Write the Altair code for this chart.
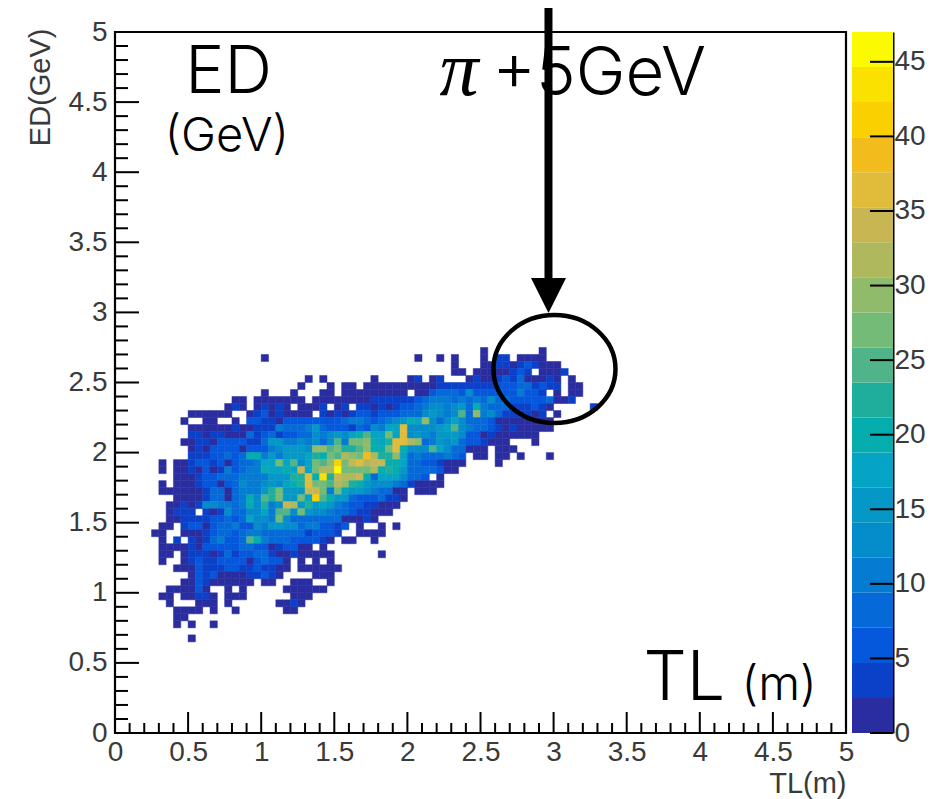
import altair as alt
import pandas as pd

# one (row, first column, levels) entry per run of filled bins; levels are base-20 colour steps
HEAT = [
 (54,50,"0"),(54,58,"0"),
 (53,20,"0"),(53,41,"0"),(53,44,"0"),(53,46,"0"),(53,50,"0"),(53,52,"11"),(53,55,"0000"),
 (52,46,"0"),(52,50,"00110121000"),
 (51,46,"00"),(51,49,"00000121"),(51,58,"0001"),
 (50,26,"0"),(50,28,"0"),(50,35,"0"),(50,40,"01"),(50,43,"01"),(50,48,"0100121300010"),(50,62,"0"),
 (49,25,"0"),(49,29,"0"),(49,31,"00"),(49,34,"0000000000"+"11111111"+"222331211"),(49,62,"00"),
 (48,20,"0"),(48,24,"0"),(48,28,"00"),(48,31,"000000000"),(48,41,"002"+"333252222224221"),(48,60,"0"),(48,62,"00"),
 (47,16,"00"),(47,19,"0000000"),(47,27,"00000000"+"111111"+"234"+"443"+"4343533"+"22222"+"3"+"001"),
 (46,15,"010"),(46,19,"01010"),(46,25,"0001"),(46,30,"01"),(46,33,"110101223"+"455456384333111210"),(46,65,"1"),
 (45,10,"000000"),(45,18,"012010000"),(45,28,"10101221222333"+"56545a3c453111101"),(45,60,"0"),
 (44,9,"0"),(44,12,"00"),(44,16,"0"),(44,18,"22"+"110"+"22222222"+"3443"+"234"+"56"+"87"+"c5"+"35753332"+"00000000"),
 (43,10,"000000100"+"1"+"1143334632221325477"+"f5555"+"67a5433210100000"),
 (42,10,"1101100031"+"23122335456578a77b7f"+"565466652201000000"),
 (41,9,"00110222211"+"3664454535a4bbc879ff"+"dc346563221000"),(41,57,"0"),
 (40,10,"0102222022"+"2456665ccab99ac88bf8"+"555a7533000"),(40,52,"000"),
 (39,10,"1112232388"+"464666798badcbgd99c7"+"34333432"),(39,49,"00"),(39,52,"00"),(39,55,"0"),(39,59,"0"),
 (38,6,"0"),(38,8,"001221202334"+"77b7a57bachbefdee887"+"33221000"),(38,52,"0"),
 (37,6,"0"),(37,8,"001020142344"+"87787e7bddjbbbbd8986"+"3333200"),
 (36,8,"000122333444"+"466699f8i9edde837775"+"332"),(36,44,"0"),
 (35,6,"0"),(35,8,"000122023544"+"565789fbbadc98655543"+"10000"),
 (34,6,"00000013303444"+"69b666eeb4b766543300"),(34,41,"000"),
 (33,8,"000013303485"+"a9b66b7ha86632223110"),
 (32,7,"0010155443485"+"945ed69676432211000"),
 (31,7,"0111"),(31,12,"10153355"+"74aa5b655433211000"),
 (30,7,"0011112232375"+"54b5333333300010"),
 (29,6,"00"),(29,9,"12202334225"+"466553442212"),(29,33,"0"),(29,36,"0"),(29,38,"0"),
 (28,5,"00"),(28,9,"00012332344"+"33333312221"),(28,33,"0000"),
 (27,6,"0"),(27,8,"1"),(27,10,"10134223a8"+"4333222210"),(27,31,"00"),(27,35,"0"),
 (26,6,"0000"),(26,10,"1022222332"+"2012200"),(26,28,"0"),
 (25,6,"00"),(25,9,"01110131223"+"3100100000"),(25,36,"0"),
 (24,6,"0"),(24,9,"01211222202"+"3220"),(24,25,"0"),(24,27,"0"),(24,29,"0"),
 (23,8,"0002111221121100"),(23,25,"000000"),
 (22,10,"0212000011210"),(22,27,"000"),
 (21,9,"0021000000"),(21,20,"00"),(21,24,"000"),(21,29,"0"),
 (20,7,"000020"),(20,15,"0"),(20,17,"0"),(20,23,"000000"),
 (19,6,"00"),(19,9,"00110"),(19,15,"000"),(19,24,"000"),
 (18,7,"0"),(18,11,"000"),(18,15,"0"),(18,22,"0010"),
 (17,8,"0000"),(17,13,"0"),(17,16,"0"),(17,23,"00"),
 (16,8,"00"),
 (15,8,"0"),(15,10,"0"),(15,13,"0"),
 (13,10,"0"),
]
BIN_W = 0.05
LEVEL_COLORS = ["#2a2da0","#0b40c8","#0557dc","#056ad8","#057bd2","#058cca","#0598c6","#05a3c4",
                "#05adae","#20ae9c","#50b48a","#74bb78","#90bb6a","#b0b85e","#c8b652","#e0bc3a",
                "#f2bd1c","#fbd000","#fbe100","#fcfa00"]
LEVEL_STEP = 47 / 20

AXIS_MAJOR = [0,0.5,1,1.5,2,2.5,3,3.5,4,4.5,5]
AXIS_MINOR = [round(i*0.1,1) for i in range(51) if i % 5]
BAR_TICKS = [0,5,10,15,20,25,30,35,40,45]
TEXTS = [("ED",0.48,4.565,66),("(GeV)",0.34,4.15,47),("+5GeV",2.58,4.55,67),("TL",3.615,0.235,68),("(m)",4.285,0.235,48)]
PI = [("π",2.22,4.55,78)]
ARROW_X = [2.965]
ARROW_TIP = [(2.965,3.12)]
RING = [(3.006,2.596)]

DIGITS = "0123456789abcdefghij"
rows = []
for j, start, s in HEAT:
    for k, c in enumerate(s):
        i = start + k
        rows.append(dict(x0=round(i*BIN_W,2), x1=round((i+1)*BIN_W,2), y0=round(j*BIN_W,2), y1=round((j+1)*BIN_W,2), level=DIGITS.index(c)))
heat_df = pd.DataFrame(rows)

xs = alt.Scale(domain=[0,5], nice=False, zero=False)
ys = alt.Scale(domain=[0,5], nice=False, zero=False)
level_scale = alt.Scale(domain=list(range(20)), range=LEVEL_COLORS)
FONT = "Liberation Sans"
INK = "#3a3a3a"
W, H = 731, 701

X_AXIS = alt.Axis(values=AXIS_MAJOR, format="~g", grid=False, domain=False, ticks=False,
    labelFont=FONT, labelFontSize=28, labelColor=INK, labelPadding=5, labelAngle=0, labelOverlap=False, labelFlush=False,
    title="TL(m)", titleFont=FONT, titleFontSize=29, titleFontWeight="normal", titleColor=INK, titleAnchor="end", titlePadding=3)
Y_AXIS = alt.Axis(values=AXIS_MAJOR, format="~g", grid=False, domain=False, ticks=False,
    labelFont=FONT, labelFontSize=28, labelColor=INK, labelPadding=8, labelOverlap=False, labelFlush=False,
    title="ED(GeV)", titleFont=FONT, titleFontSize=29, titleFontWeight="normal", titleColor=INK, titleAnchor="end", titlePadding=13, titleY=-4)

heat = alt.Chart(heat_df).mark_rect(strokeWidth=0.5).encode(
    x=alt.X("x0:Q", scale=xs, axis=X_AXIS),
    x2="x1:Q",
    y=alt.Y("y0:Q", scale=ys, axis=Y_AXIS),
    y2="y1:Q",
    color=alt.Color("level:O", scale=level_scale, legend=None),
    stroke=alt.Stroke("level:O", scale=level_scale, legend=None),
)

def xtick(vals, length):
    return alt.Chart(pd.DataFrame({"v": vals})).mark_rule(color="black", strokeWidth=2).encode(
        x=alt.X("v:Q", scale=xs, axis=X_AXIS), y=alt.value(H), y2=alt.value(H-length))
def ytick(vals, length):
    return alt.Chart(pd.DataFrame({"v": vals})).mark_rule(color="black", strokeWidth=2).encode(
        y=alt.Y("v:Q", scale=ys, axis=Y_AXIS), x=alt.value(0), x2=alt.value(length))

text_df = pd.DataFrame(TEXTS, columns=["t","x","y","s"])
labels = alt.Chart(text_df).mark_text(font="Inter", fontWeight=300, align="left", baseline="alphabetic", color="black").encode(
    x=alt.X("x:Q", scale=xs, axis=X_AXIS), y=alt.Y("y:Q", scale=ys, axis=Y_AXIS),
    text="t:N", size=alt.Size("s:Q", scale=None, legend=None))
pi_df = pd.DataFrame(PI, columns=["t","x","y","s"])
pi = alt.Chart(pi_df).mark_text(font="Liberation Serif", fontStyle="italic", align="left", baseline="alphabetic", color="black").encode(
    x=alt.X("x:Q", scale=xs, axis=X_AXIS), y=alt.Y("y:Q", scale=ys, axis=Y_AXIS),
    text="t:N", size=alt.Size("s:Q", scale=None, legend=None))

shaft = alt.Chart(pd.DataFrame({"x": ARROW_X})).mark_rule(color="black", strokeWidth=8).encode(
    x=alt.X("x:Q", scale=xs, axis=X_AXIS), y=alt.value(-24), y2=alt.value(252))
head = alt.Chart(pd.DataFrame(ARROW_TIP, columns=["x","y"])).mark_point(
    shape="M-1,-1 L1,-1 L0,1 Z", filled=True, fill="black", stroke="black", strokeWidth=0, opacity=1, size=1225).encode(
    x=alt.X("x:Q", scale=xs, axis=X_AXIS), y=alt.Y("y:Q", scale=ys, axis=Y_AXIS))
ring = alt.Chart(pd.DataFrame(RING, columns=["x","y"])).mark_point(
    shape="M-1,0 A1,0.885 0 1,1 1,0 A1,0.885 0 1,1 -1,0 Z", filled=False, stroke="black", strokeWidth=4.5, opacity=1, size=14884).encode(
    x=alt.X("x:Q", scale=xs, axis=X_AXIS), y=alt.Y("y:Q", scale=ys, axis=Y_AXIS))

main = alt.layer(heat, xtick(AXIS_MINOR,10), xtick(AXIS_MAJOR,21), ytick(AXIS_MINOR,13), ytick(AXIS_MAJOR,24),
                 labels, pi, shaft, head, ring).properties(
    width=W, height=H, view=alt.ViewBackground(stroke="black", strokeWidth=2.2, fill="white"))

bar_scale = alt.Scale(domain=[0,47], nice=False, zero=False)
bar_df = pd.DataFrame({"lo":[i*LEVEL_STEP for i in range(20)], "hi":[(i+1)*LEVEL_STEP for i in range(20)], "level":list(range(20))})
BAR_AXIS = alt.Axis(orient="right", values=BAR_TICKS, grid=False, ticks=False, domain=True,
    domainColor="black", domainWidth=2, labelFont=FONT, labelFontSize=28, labelColor=INK, labelPadding=1,
    labelOverlap=False, labelFlush=False, title=None)
bands = alt.Chart(bar_df).mark_rect(strokeWidth=0).encode(
    x=alt.value(0), x2=alt.value(41),
    y=alt.Y("lo:Q", scale=bar_scale, axis=BAR_AXIS),
    y2="hi:Q",
    color=alt.Color("level:O", scale=level_scale, legend=None))
bar_ticks = alt.Chart(pd.DataFrame({"v": BAR_TICKS})).mark_rule(color="black", strokeWidth=2).encode(
    y=alt.Y("v:Q", scale=bar_scale, axis=BAR_AXIS), x=alt.value(18), x2=alt.value(41))
bar = alt.layer(bands, bar_ticks).properties(width=41, height=H, view=alt.ViewBackground(stroke="transparent"))

chart = alt.hconcat(main, bar, spacing=6, bounds="flush").properties(padding={"left":16,"top":-6,"right":0,"bottom":2}, background="white")
chart.save("out.html", embed_options={"renderer": "svg", "actions": False})
